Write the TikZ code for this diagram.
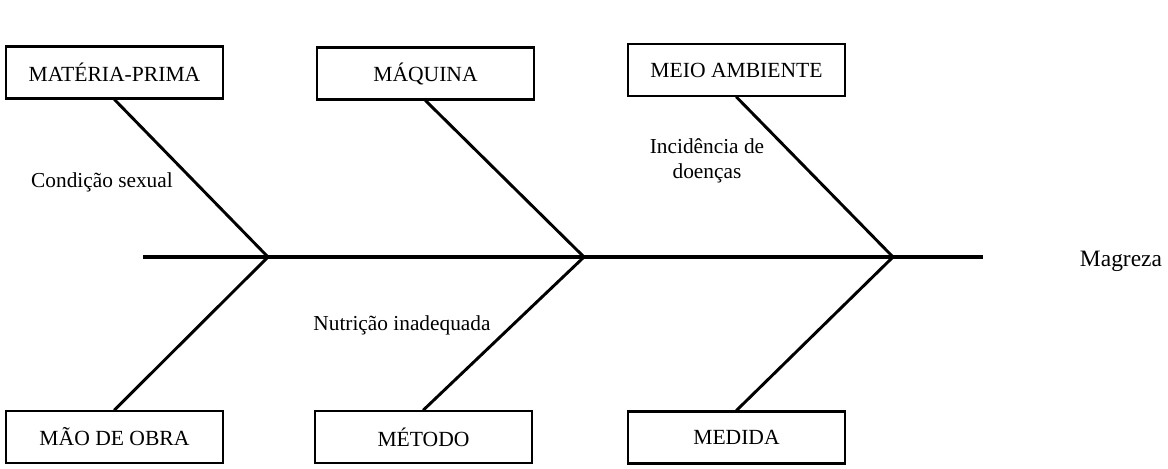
\documentclass[tikz,border=0pt]{standalone}
\usepackage{fontspec}
\setmainfont{Liberation Serif}
\begin{document}
\begin{tikzpicture}[x=0.75pt,y=-0.75pt,
  causebox/.style={draw=black, line width=1.6pt, minimum width=162.75pt, minimum height=39pt, inner sep=0pt, font=\fontsize{16.2}{19}\selectfont},
  bone/.style={line width=2.2pt, line cap=round},
  lbl/.style={font=\fontsize{16}{18.8}\selectfont, inner sep=0pt, align=center}]
\useasboundingbox (0,0) rectangle (1168,468);
% spine
\coordinate (s0) at (143,257);
\coordinate (s1) at (983,257);
\coordinate (j1) at (268,257);
\coordinate (j2) at (584,257);
\coordinate (j3) at (893,257);
\draw[line width=2.3pt] (s0) -- (s1);
% boxes
\node[causebox] (mp) at (114.5,72.5) {MATÉRIA-PRIMA};
\node[causebox] (maq) at (425.5,73.5) {MÁQUINA};
\node[causebox] (ma) at (736.5,70) {MEIO AMBIENTE};
\node[causebox] (mo) at (114.5,437) {MÃO DE OBRA};
\node[causebox] (met) at (423.5,437) {MÉTODO};
\node[causebox] (med) at (736.5,437.5) {MEDIDA};
% bones
\draw[bone] (mp.south) -- (j1);
\draw[bone] (maq.south) -- (j2);
\draw[bone] (ma.south) -- (j3);
\draw[bone] (mo.north) -- (j1);
\draw[bone] (met.north) -- (j2);
\draw[bone] (med.north) -- (j3);
% labels
\node[lbl] (cs) at (102,182) {Condição sexual};
\node[lbl] (ni) at (402,325) {Nutrição inadequada};
\node[lbl] (id) at (707,161) {Incidência de\\doenças};
\node[lbl, font=\fontsize{17.6}{20}\selectfont] (mg) at (1121,261) {Magreza};
\end{tikzpicture}
\end{document}
